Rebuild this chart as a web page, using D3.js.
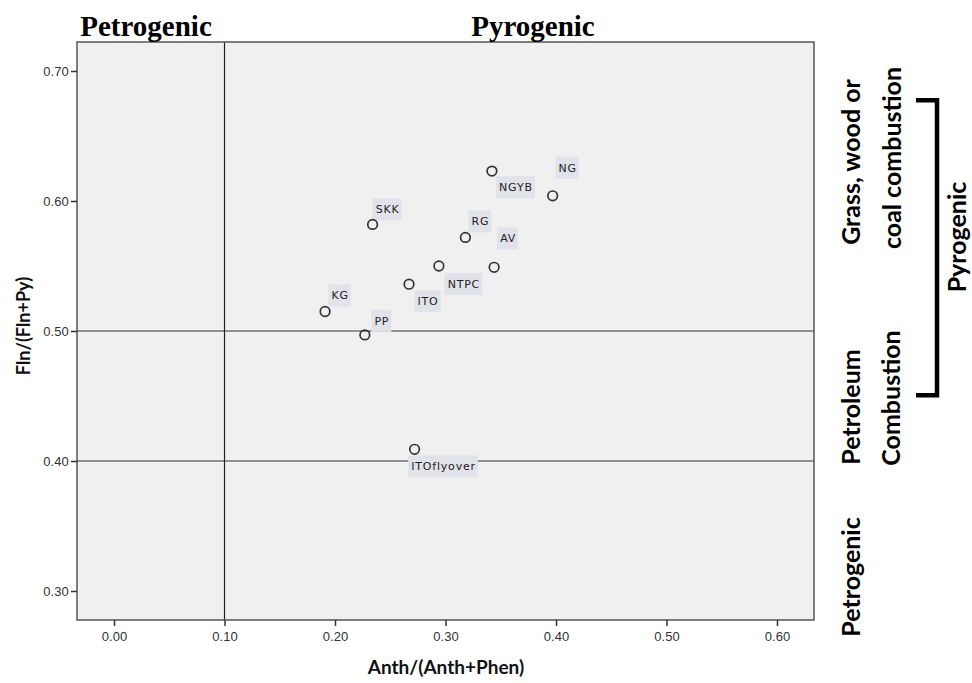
<!DOCTYPE html>
<html>
<head>
<meta charset="utf-8">
<script src="https://cdn.jsdelivr.net/npm/d3@7"></script>
<style>
  html, body { margin: 0; padding: 0; background: #fff; }
  svg { display: block; }
</style>
</head>
<body>
<svg id="chart" width="972" height="683"></svg>
<script>
// Sampling sites and their PAH diagnostic ratios
const sites   = ["NGYB", "NG", "SKK", "RG", "NTPC", "AV", "ITO", "KG", "PP", "ITOflyover"];
const anthRatio = [0.342, 0.397, 0.234, 0.318, 0.294, 0.344, 0.267, 0.191, 0.227, 0.272]; // Anth/(Anth+Phen)
const flnRatio  = [0.623, 0.604, 0.582, 0.572, 0.550, 0.549, 0.536, 0.515, 0.497, 0.409]; // Fln/(Fln+Py)

// Axis ticks
const xTicks = [0.0, 0.1, 0.2, 0.3, 0.4, 0.5, 0.6];
const yTicks = [0.3, 0.4, 0.5, 0.6, 0.7];

// Threshold reference lines
const xRefLines = [0.1];
const yRefLines = [0.5, 0.4];

// Label placement relative to each marker (dx, dy in px)
const labelDx = [24, 15, 15, 15, 25, 14, 19, 15, 17, 29];
const labelDy = [16, -28, -15, -16, 18, -29, 17, -16, -14, 17];

const svg = d3.select("#chart");
const plot = { left: 77, top: 42, right: 814, bottom: 620 };

const x = d3.scaleLinear().domain([-0.0335, 0.6335]).range([plot.left, plot.right]);
const y = d3.scaleLinear().domain([0.2777, 0.7223]).range([plot.bottom, plot.top]);

// Plot background
svg.append("rect")
  .attr("x", plot.left).attr("y", plot.top)
  .attr("width", plot.right - plot.left).attr("height", plot.bottom - plot.top)
  .attr("fill", "#f0f0f0");

// Reference lines
svg.selectAll("line.xref").data(xRefLines).enter().append("line")
  .attr("x1", d => x(d)).attr("x2", d => x(d))
  .attr("y1", plot.top).attr("y2", plot.bottom)
  .attr("stroke", "#222").attr("stroke-width", 1.2);
svg.selectAll("line.yref").data(yRefLines).enter().append("line")
  .attr("x1", plot.left).attr("x2", plot.right)
  .attr("y1", d => y(d)).attr("y2", d => y(d))
  .attr("stroke", "#333").attr("stroke-width", 1.2);

// Frame
svg.append("rect")
  .attr("x", plot.left).attr("y", plot.top)
  .attr("width", plot.right - plot.left).attr("height", plot.bottom - plot.top)
  .attr("fill", "none").attr("stroke", "#555").attr("stroke-width", 1.5);

// Axes
const tickFont = "Liberation Sans, Arial, sans-serif";
const xAxis = d3.axisBottom(x).tickValues(xTicks).tickFormat(d3.format(".2f")).tickSize(6).tickSizeOuter(0);
const gx = svg.append("g").attr("transform", `translate(0,${plot.bottom})`).call(xAxis);
gx.select(".domain").remove();
gx.selectAll(".tick line").attr("stroke", "#333").attr("stroke-width", 1.5);
gx.selectAll(".tick text").attr("font-family", tickFont).attr("font-size", 13).attr("fill", "#333").attr("dy", "0.95em");

const yAxis = d3.axisLeft(y).tickValues(yTicks).tickFormat(d3.format(".2f")).tickSize(6).tickSizeOuter(0);
const gy = svg.append("g").attr("transform", `translate(${plot.left},0)`).call(yAxis);
gy.select(".domain").remove();
gy.selectAll(".tick line").attr("stroke", "#333").attr("stroke-width", 1.5);
gy.selectAll(".tick text").attr("font-family", tickFont).attr("font-size", 13).attr("fill", "#333").attr("dx", "0.05em");

// Axis titles
const titleFont = "Lato, sans-serif";
svg.append("text")
  .attr("x", 446).attr("y", 674)
  .attr("text-anchor", "middle")
  .attr("font-family", titleFont).attr("font-weight", "bold").attr("font-size", 19)
  .attr("fill", "#111")
  .text("Anth/(Anth+Phen)");
svg.append("text")
  .attr("transform", `translate(24,326) rotate(-90)`)
  .attr("text-anchor", "middle").attr("dy", "0.35em")
  .attr("font-family", titleFont).attr("font-weight", "bold").attr("font-size", 18)
  .attr("fill", "#111")
  .text("Fln/(Fln+Py)");

// Points with labels
const rows = sites.map((s, i) => ({ site: s, ax: anthRatio[i], fy: flnRatio[i], dx: labelDx[i], dy: labelDy[i] }));

const labels = svg.append("g").selectAll("g").data(rows).enter().append("g")
  .attr("transform", d => `translate(${x(d.ax) + d.dx},${y(d.fy) + d.dy})`);
labels.append("text")
  .attr("text-anchor", "middle").attr("dy", "0.36em")
  .attr("font-family", "DejaVu Sans, sans-serif").attr("font-size", 11)
  .attr("letter-spacing", 0.8)
  .attr("fill", "#222")
  .text(d => d.site);
labels.each(function () {
  const g = d3.select(this);
  const bb = g.select("text").node().getBBox();
  g.insert("rect", "text")
    .attr("x", bb.x - 3).attr("y", -11)
    .attr("width", bb.width + 5).attr("height", 22)
    .attr("fill", "#e2e2ea");
});

svg.append("g").selectAll("circle").data(rows).enter().append("circle")
  .attr("cx", d => x(d.ax)).attr("cy", d => y(d.fy)).attr("r", 4.8)
  .attr("fill", "none").attr("stroke", "#333").attr("stroke-width", 1.7);

// Source-region headings above the plot
const serif = "Liberation Serif, Times New Roman, serif";
svg.append("text").attr("x", 146).attr("y", 36).attr("text-anchor", "middle")
  .attr("font-family", serif).attr("font-weight", "bold").attr("font-size", 29).attr("fill", "#000")
  .text("Petrogenic");
svg.append("text").attr("x", 533).attr("y", 36).attr("text-anchor", "middle")
  .attr("font-family", serif).attr("font-weight", "bold").attr("font-size", 29).attr("fill", "#000")
  .text("Pyrogenic");

// Right-hand source annotations (rotated)
const sideFont = "Lato, sans-serif";
function sideText(cx, cy, txt, size) {
  svg.append("text")
    .attr("transform", `translate(${cx},${cy}) rotate(-90)`)
    .attr("text-anchor", "middle").attr("dy", "0.35em")
    .attr("font-family", sideFont).attr("font-weight", "bold").attr("font-size", size)
    .attr("fill", "#000")
    .text(txt);
}
sideText(851, 162, "Grass, wood or", 25);
sideText(892, 158, "coal combustion", 25);
sideText(851, 407, "Petroleum", 25);
sideText(891, 398, "Combustion", 25);
sideText(851, 577, "Petrogenic", 25);
sideText(957, 237, "Pyrogenic", 25);

// Bracket grouping the two combustion zones as pyrogenic
svg.append("path")
  .attr("d", `M916,${y(0.6775)} H937 V${y(0.4505)} H916`)
  .attr("fill", "none").attr("stroke", "#000").attr("stroke-width", 4.5);
</script>
</body>
</html>
